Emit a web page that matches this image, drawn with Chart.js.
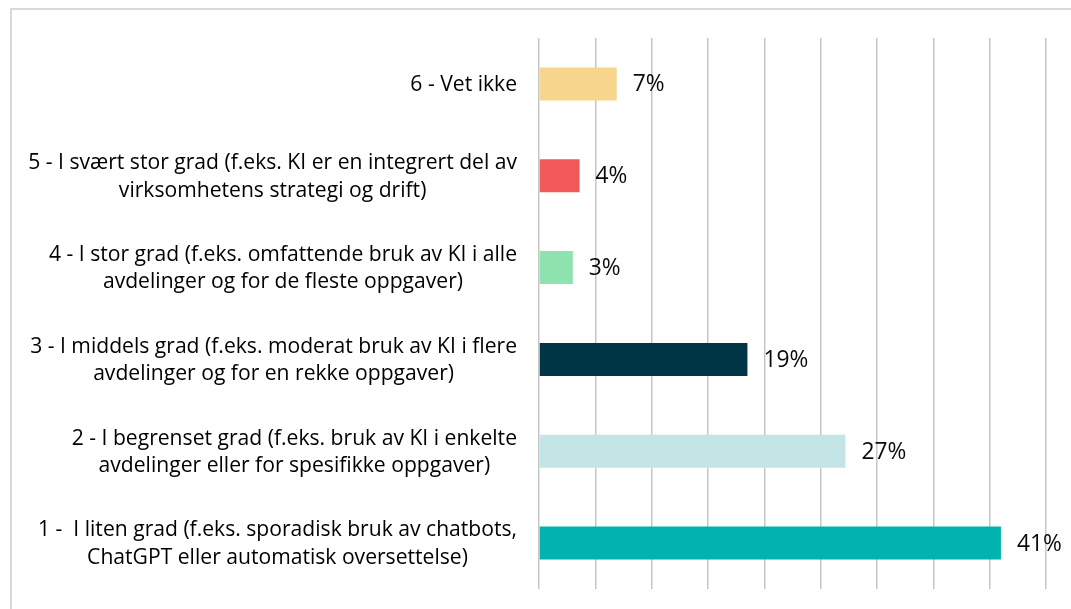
<!DOCTYPE html>
<html>
<head>
<meta charset="utf-8">
<script src="https://cdn.jsdelivr.net/npm/chart.js@4/dist/chart.umd.min.js"></script>
<style>
  html, body { margin: 0; padding: 0; background: #ffffff; }
  #wrap { position: relative; width: 1071px; height: 609px; overflow: hidden; }
  #frame { position: absolute; left: 10px; top: 8px; width: 1200px; height: 700px;
           border-left: 2px solid #d9d9d9; border-top: 2px solid #d9d9d9; box-sizing: border-box; }
  canvas { position: absolute; left: 0; top: 0; }
</style>
</head>
<body>
<div id="wrap">
  <div id="frame"></div>
  <canvas id="c" width="1071" height="609"></canvas>
</div>
<script>
// ---- data ----
const categoryLines = [
  ["6 - Vet ikke"],
  ["5 - I svært stor grad (f.eks. KI er en integrert del av", "virksomhetens strategi og drift)"],
  ["4 - I stor grad (f.eks. omfattende bruk av KI i alle", "avdelinger og for de fleste oppgaver)"],
  ["3 - I middels grad (f.eks. moderat bruk av KI i flere", "avdelinger og for en rekke oppgaver)"],
  ["2 - I begrenset grad (f.eks. bruk av KI i enkelte", "avdelinger eller for spesifikke oppgaver)"],
  ["1 -  I liten grad (f.eks. sporadisk bruk av chatbots,", "ChatGPT eller automatisk oversettelse)"]
];
const values = [6.9, 3.6, 3.0, 18.5, 27.2, 41.0];
const valueLabels = ["7%", "4%", "3%", "19%", "27%", "41%"];
const barColors = ["#F7D58D", "#F25A5A", "#8FE3AE", "#003545", "#C3E5E6", "#00B2B0"];
const axisMax = 45;
const axisStep = 5;

const fontFamily = '"Open Sans", Lato, sans-serif';

// pick a font size so the widest label line spans about 479px, like the reference
function fitFontSize() {
  const cv = document.createElement('canvas').getContext('2d');
  cv.font = '20px ' + fontFamily;
  const w = cv.measureText(categoryLines[5][0]).width;
  return Math.max(14, Math.min(24, 20 * 479 / w));
}
let fontSize = 19;

const categoryLabelsPlugin = {
  id: 'categoryLabels',
  afterDraw(chart) {
    const ctx = chart.ctx;
    const y = chart.scales.y;
    const rightEdge = 517;
    const lh = 27.5;
    ctx.save();
    ctx.font = fontSize.toFixed(2) + 'px ' + fontFamily;
    ctx.fillStyle = '#000000';
    ctx.textBaseline = 'middle';
    ctx.textAlign = 'center';
    categoryLines.forEach((lines, i) => {
      const cy = y.getPixelForValue(i) + 1;
      const maxW = Math.max(...lines.map(l => ctx.measureText(l).width));
      const cx = rightEdge - maxW / 2;
      const start = cy - (lines.length - 1) * lh / 2;
      lines.forEach((l, k) => ctx.fillText(l, cx, start + k * lh));
    });
    ctx.restore();
  }
};

const valueLabelsPlugin = {
  id: 'valueLabels',
  afterDatasetsDraw(chart) {
    const ctx = chart.ctx;
    const meta = chart.getDatasetMeta(0);
    ctx.save();
    ctx.font = (fontSize * 1.08).toFixed(2) + 'px ' + fontFamily;
    ctx.fillStyle = '#0a0a0a';
    ctx.textBaseline = 'middle';
    ctx.textAlign = 'left';
    meta.data.forEach((bar, i) => {
      ctx.fillText(valueLabels[i], bar.x + 16, bar.y + 1);
    });
    ctx.restore();
  }
};

function build() {
  fontSize = fitFontSize();
  new Chart(document.getElementById('c'), {
    type: 'bar',
    data: {
      labels: categoryLines.map(l => l.join(' ')),
      datasets: [{
        data: values,
        backgroundColor: barColors,
        borderWidth: 0,
        barPercentage: 0.36,
        categoryPercentage: 1.0
      }]
    },
    options: {
      indexAxis: 'y',
      responsive: false,
      animation: false,
      devicePixelRatio: 1,
      layout: { padding: { left: 539, right: 25, top: 38, bottom: 20 } },
      plugins: { legend: { display: false }, tooltip: { enabled: false } },
      scales: {
        x: {
          min: 0, max: axisMax,
          ticks: { display: false, stepSize: axisStep },
          grid: { color: '#c6c6c6', lineWidth: 1.5, drawTicks: false },
          border: { display: false },
          afterFit(s) { s.height = 0; }
        },
        y: {
          ticks: { display: false },
          grid: { display: false, drawTicks: false },
          border: { display: false },
          afterFit(s) { s.width = 0; }
        }
      }
    },
    plugins: [categoryLabelsPlugin, valueLabelsPlugin]
  });
}
if (document.fonts && document.fonts.load) {
  document.fonts.load('20px "Open Sans"').then(build, build);
} else {
  build();
}
</script>
</body>
</html>
